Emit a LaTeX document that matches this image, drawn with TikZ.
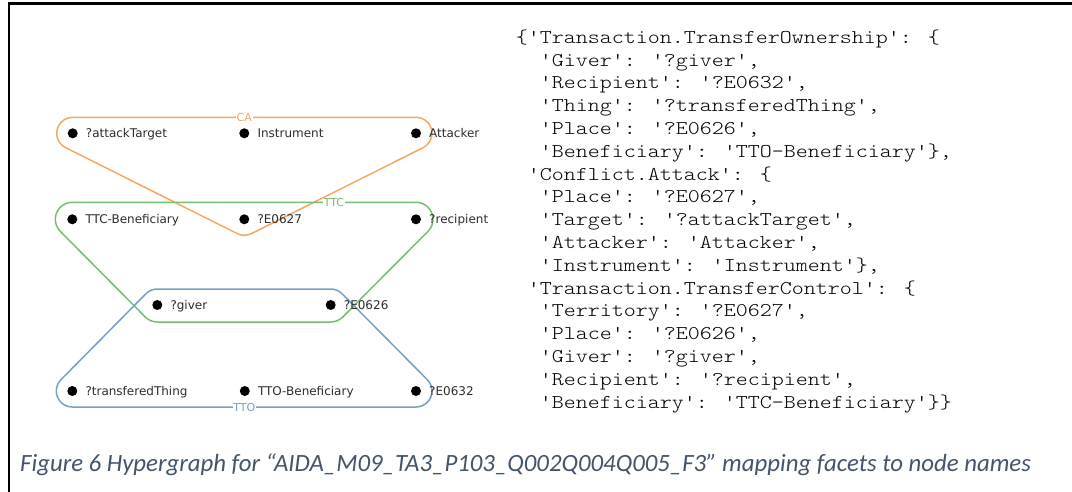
\documentclass[tikz,border=0pt]{standalone}
\usepackage{fontspec}
\newfontfamily\codefont{lmmonolt10-regular.otf}[FakeStretch=1.172]
\newfontfamily\lblfont{DejaVu Sans}
\newfontfamily\capfont{Carlito}
\usetikzlibrary{calc}
\definecolor{caorange}{RGB}{244,168,100}
\definecolor{ttcgreen}{RGB}{118,190,112}
\definecolor{ttoblue}{RGB}{118,160,202}
\definecolor{lblgray}{RGB}{45,45,45}
\definecolor{capblue}{RGB}{68,84,106}
\tikzset{
  dot/.style={circle,fill=black,inner sep=0pt,minimum size=10pt},
  lbl/.style={anchor=base west,inner sep=0pt,text=lblgray,font=\lblfont\fontsize{12}{14}\selectfont},
  hull/.style={line width=1.5pt,line join=round},
  hlab/.style={fill=white,inner sep=0.6pt,font=\lblfont\fontsize{11}{13}\selectfont},
  codeline/.style={anchor=base west,inner sep=0pt,font=\codefont\fontsize{19.5}{22}\selectfont},
  frame/.style={line width=2.5pt}
}
\begin{document}
\begin{tikzpicture}[x=1pt,y=-1pt]
\useasboundingbox (0,0) rectangle (1072,492);
\fill[white] (0,0) rectangle (1072,492);
\coordinate (fb) at (9,492);
\coordinate (fc) at (9,3.3);
\coordinate (fr) at (1072,3.3);
\draw[frame] (fb) -- (fc) -- (fr);

% dots
\node[dot] (at) at (72.7,133.3) {};
\node[dot] (ins) at (244.3,133.3) {};
\node[dot] (att) at (416,133.3) {};
\node[dot] (tcb) at (72.3,219.3) {};
\node[dot] (e627) at (244.3,219.3) {};
\node[dot] (rec) at (416,219.3) {};
\node[dot] (giv) at (157.3,305) {};
\node[dot] (e626) at (330.7,305) {};
\node[dot] (tt) at (72.3,391) {};
\node[dot] (tob) at (244.8,391) {};
\node[dot] (e632) at (416,391) {};

% hulls
\draw[hull,caorange] ($(at)+(270:16)$) -- ($(att)+(270:16)$)
  arc[start angle=-90,end angle=63.4,radius=16] -- ($(e627)+(63.4:16)$)
  arc[start angle=63.4,end angle=116.6,radius=16] -- ($(at)+(116.6:16)$)
  arc[start angle=116.6,end angle=270,radius=16] -- cycle;
\draw[hull,ttcgreen] ($(tcb)+(270:17)$) -- ($(rec)+(270:17)$)
  arc[start angle=-90,end angle=45,radius=17] -- ($(e626)+(45:17)$)
  arc[start angle=45,end angle=90,radius=17] -- ($(giv)+(90:17)$)
  arc[start angle=90,end angle=135.2,radius=17] -- ($(tcb)+(135.2:17)$)
  arc[start angle=135.2,end angle=270,radius=17] -- cycle;
\draw[hull,ttoblue] ($(giv)+(270:16)$) -- ($(e626)+(270:16)$)
  arc[start angle=-90,end angle=-44.8,radius=16] -- ($(e632)+(-44.8:16)$)
  arc[start angle=-44.8,end angle=90,radius=16] -- ($(tt)+(90:16)$)
  arc[start angle=90,end angle=224.7,radius=16] -- ($(giv)+(224.7:16)$)
  arc[start angle=224.7,end angle=270,radius=16] -- cycle;

\node[hlab,text=caorange] (lca) at (244.3,117.3) {CA};
\node[hlab,text=ttcgreen] (lttc) at (334,202.3) {TTC};
\node[hlab,text=ttoblue] (ltto) at (244.3,407) {TTO};

% labels
\node[lbl] (tat) at ($(at)+(13,4.3)$) {?attackTarget};
\node[lbl] (tins) at ($(ins)+(13,4.3)$) {Instrument};
\node[lbl] (tatt) at ($(att)+(13,4.3)$) {Attacker};
\node[lbl] (ttcb) at ($(tcb)+(13,4.3)$) {TTC-Beneficiary};
\node[lbl] (te627) at ($(e627)+(13,4.3)$) {?E0627};
\node[lbl] (trec) at ($(rec)+(13,4.3)$) {?recipient};
\node[lbl] (tgiv) at ($(giv)+(13,4.3)$) {?giver};
\node[lbl] (te626) at ($(e626)+(13,4.3)$) {?E0626};
\node[lbl] (ttt) at ($(tt)+(13,4.3)$) {?transferedThing};
\node[lbl] (ttob) at ($(tob)+(13,4.3)$) {TTO-Beneficiary};
\node[lbl] (te632) at ($(e632)+(13,4.3)$) {?E0632};

% code
\node[codeline] (c1) at (515.7,43.3) {\{'Transaction.TransferOwnership': \{};
\node[codeline] (c2) at (539.7,66.1) {'Giver': '?giver',};
\node[codeline] (c3) at (539.7,88.9) {'Recipient': '?E0632',};
\node[codeline] (c4) at (539.7,111.7) {'Thing': '?transferedThing',};
\node[codeline] (c5) at (539.7,134.5) {'Place': '?E0626',};
\node[codeline] (c6) at (539.7,157.3) {'Beneficiary': 'TTO-Beneficiary'\},};
\node[codeline] (c7) at (527.7,180.1) {'Conflict.Attack': \{};
\node[codeline] (c8) at (539.7,202.9) {'Place': '?E0627',};
\node[codeline] (c9) at (539.7,225.7) {'Target': '?attackTarget',};
\node[codeline] (c10) at (539.7,248.5) {'Attacker': 'Attacker',};
\node[codeline] (c11) at (539.7,271.3) {'Instrument': 'Instrument'\},};
\node[codeline] (c12) at (527.7,294.1) {'Transaction.TransferControl': \{};
\node[codeline] (c13) at (539.7,316.9) {'Territory': '?E0627',};
\node[codeline] (c14) at (539.7,339.7) {'Place': '?E0626',};
\node[codeline] (c15) at (539.7,362.5) {'Giver': '?giver',};
\node[codeline] (c16) at (539.7,385.3) {'Recipient': '?recipient',};
\node[codeline] (c17) at (539.7,408.1) {'Beneficiary': 'TTC-Beneficiary'\}\}};

% caption
\node[anchor=base west,inner sep=0pt,text=capblue,font=\capfont\itshape\fontsize{24.8}{28}\selectfont] (cap) at (20,471)
 {Figure 6 Hypergraph for “AIDA\_M09\_TA3\_P103\_Q002Q004Q005\_F3” mapping facets to node names};
\end{tikzpicture}
\end{document}
